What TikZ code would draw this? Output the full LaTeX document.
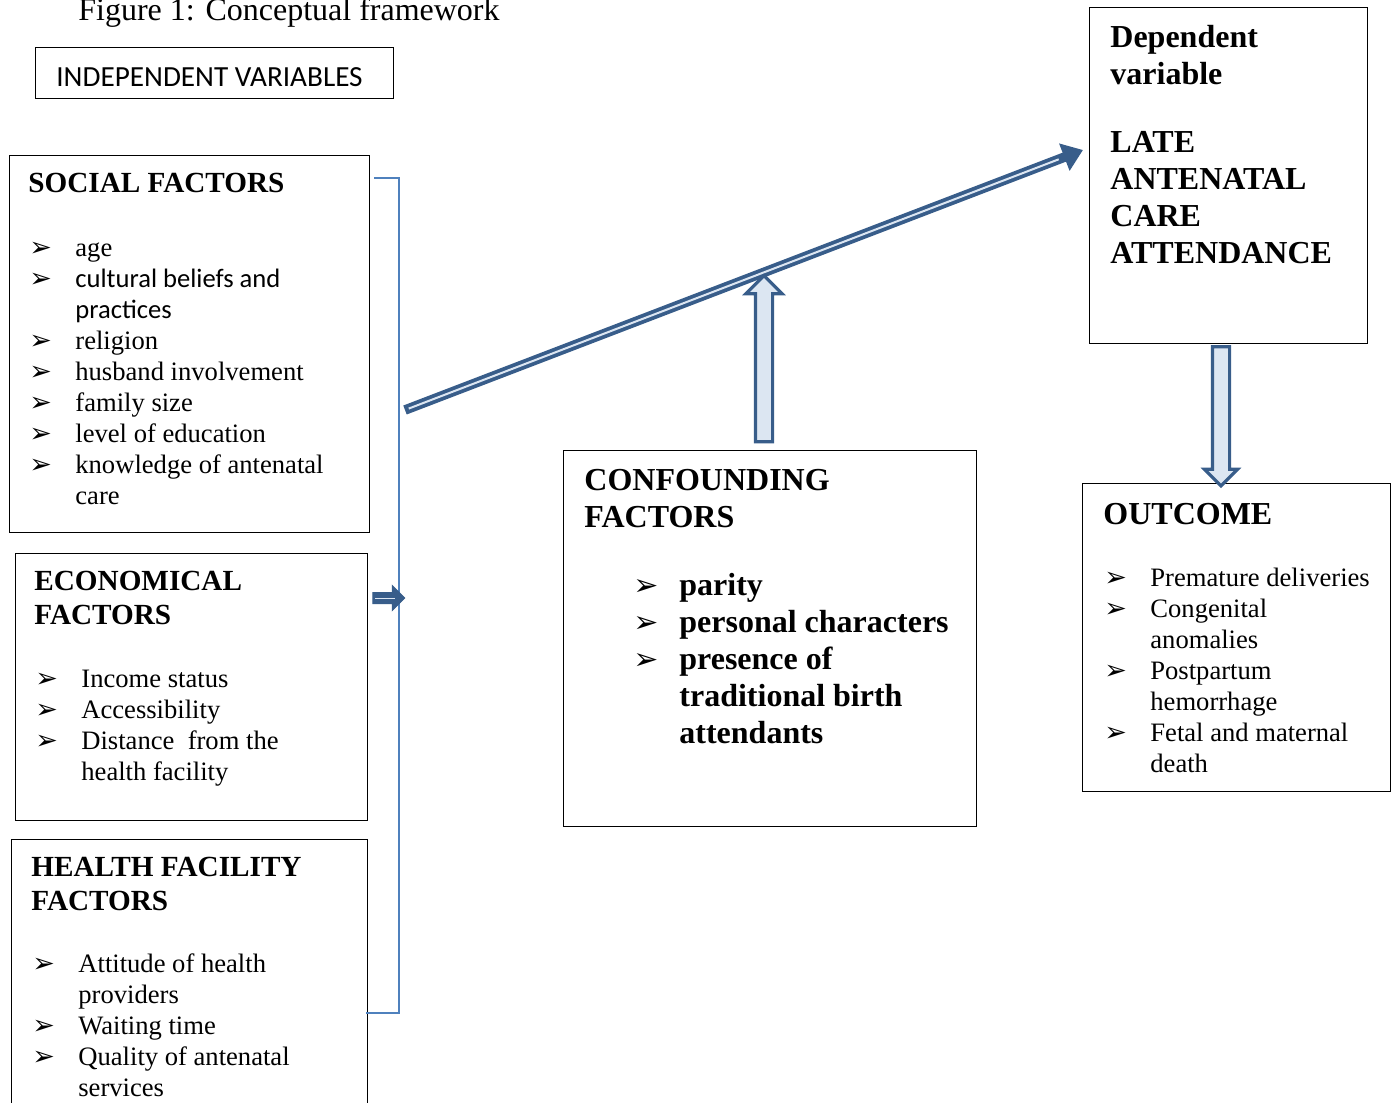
\documentclass[tikz,border=0pt]{standalone}
\usepackage{fontspec}
\setmainfont{Liberation Serif}
\newfontfamily\calfont{Carlito}
\newfontfamily\bulfont{DejaVu Sans}
\usetikzlibrary{arrows.meta,shapes.arrows}
\definecolor{arrdark}{HTML}{385D8A}
\definecolor{arrlight}{HTML}{DCE6F2}
\definecolor{brkblue}{HTML}{4F81BD}
\newcommand\bodyfont{\fontsize{13.3}{15.5}\selectfont}
\newcommand\headfont{\fontsize{14.6}{17}\selectfont\bfseries}
\newcommand\bigfont{\fontsize{16}{18.5}\selectfont\bfseries}
\newcommand\itm{\makebox[23pt][l]{\bulfont\fontsize{13.5}{15}\selectfont ➢}}
\newcommand\bigitm{\makebox[23pt][l]{\bulfont\fontsize{15}{17}\selectfont ➢}}
\newcommand\ind{\hspace*{23pt}}
\tikzset{
  box/.style={draw, line width=0.7pt, anchor=north west, inner sep=0pt},
  txt/.style={anchor=north west, inner sep=0pt, align=left, execute at begin node=\strut},
  blockarr/.style={single arrow, draw=arrdark, fill=arrlight, line width=1.6pt,
    inner xsep=0pt, inner ysep=3.5pt, minimum width=0pt}
}
\begin{document}
\begin{tikzpicture}[x=0.5pt,y=-0.5pt]
\useasboundingbox (0,0) rectangle (1393,1103);

\node[anchor=base west, inner sep=0pt, font=\fontsize{16}{18.5}\selectfont] (title) at (78,20) {Figure 1: Conceptual framework};

\node[box, minimum width=179pt, minimum height=25.5pt] (indep) at (35,47) {};
\node[inner sep=0pt, font=\calfont\fontsize{14.6}{17}\selectfont] (indeptxt) at (209.5,77) {INDEPENDENT VARIABLES};

\node[box, minimum width=180pt, minimum height=188.5pt] (social) at (9,155) {};
\node[txt, font=\headfont] (socialhd) at (28,168) {SOCIAL FACTORS};
\node[txt, font=\bodyfont] (sociallist) at (29,242) {\itm age\\
  \itm{\calfont cultural beliefs and}\\
  \ind{\calfont practices}\\
  \itm religion\\
  \itm husband involvement\\
  \itm family size\\
  \itm level of education\\
  \itm knowledge of antenatal\\
  \ind care};

\node[box, minimum width=176pt, minimum height=133.5pt] (econ) at (15,553) {};
\node[txt, font=\headfont] (econhd) at (34,571) {ECONOMICAL\\FACTORS};
\node[txt, font=\bodyfont] (econlist) at (35,670) {\itm Income status\\
  \itm Accessibility\\
  \itm Distance~ from the\\
  \ind health facility};

\node[box, minimum width=178pt, minimum height=140pt] (health) at (11,839) {};
\node[txt, font=\headfont] (healthhd) at (31,857) {HEALTH FACILITY\\FACTORS};
\node[txt, font=\bodyfont] (healthlist) at (32,953) {\itm Attitude of health\\
  \ind providers\\
  \itm Waiting time\\
  \itm Quality of antenatal\\
  \ind services};

\node[box, minimum width=206.5pt, minimum height=188pt] (conf) at (563,450) {};
\node[txt, font=\bigfont] (confhd) at (584,469) {CONFOUNDING\\FACTORS};
\node[txt, font=\bigfont] (conflist) at (633,573) {\bigitm parity\\
  \bigitm personal characters\\
  \bigitm presence of\\
  \ind traditional birth\\
  \ind attendants};

\node[box, minimum width=139pt, minimum height=168pt] (dep) at (1089,7) {};
\node[txt, font=\bigfont] (deptxt) at (1110,25) {Dependent\\
  variable\\[15.5pt]
  LATE\\ANTENATAL\\CARE\\ATTENDANCE};

\node[box, minimum width=154pt, minimum height=154pt] (outc) at (1082,483) {};
\node[txt, font=\bigfont] (outchd) at (1103,498) {OUTCOME};
\node[txt, font=\bodyfont] (outclist) at (1104,568) {\itm Premature deliveries\\
  \itm Congenital\\
  \ind anomalies\\
  \itm Postpartum\\
  \ind hemorrhage\\
  \itm Fetal and maternal\\
  \ind death};

\coordinate (brtop) at (374,178);
\coordinate (brbot) at (366,1013);
\draw[brkblue, line width=1pt] (brtop) -- (399,178) -- (399,1013) -- (brbot);

\node[single arrow, draw=arrdark, fill=arrdark, line width=0.5pt, inner xsep=0pt, inner ysep=2.5pt,
  minimum width=0pt, single arrow head extend=3.5pt, minimum height=16pt] (rarr) at (386,598) {};
\draw[arrlight, line width=0.5pt] ([xshift=1.5pt]rarr.tail) -- ([xshift=-5pt]rarr.tip);

\coordinate (ls) at (405,410);
\coordinate (le) at (1083,150);
\draw[arrdark, line width=4.8pt, -{Triangle[length=10pt,width=14pt]}] (ls) -- (le);
\draw[arrlight, line width=1pt, shorten <=2pt, shorten >=13pt] (ls) -- (le);

\node[blockarr, single arrow head extend=4.75pt, minimum height=83pt, rotate=90] (uparr) at (764,363) {};
\node[blockarr, single arrow head extend=4pt, minimum height=69.5pt, rotate=-90] (downarr) at (1221,412) {};
\end{tikzpicture}
\end{document}
